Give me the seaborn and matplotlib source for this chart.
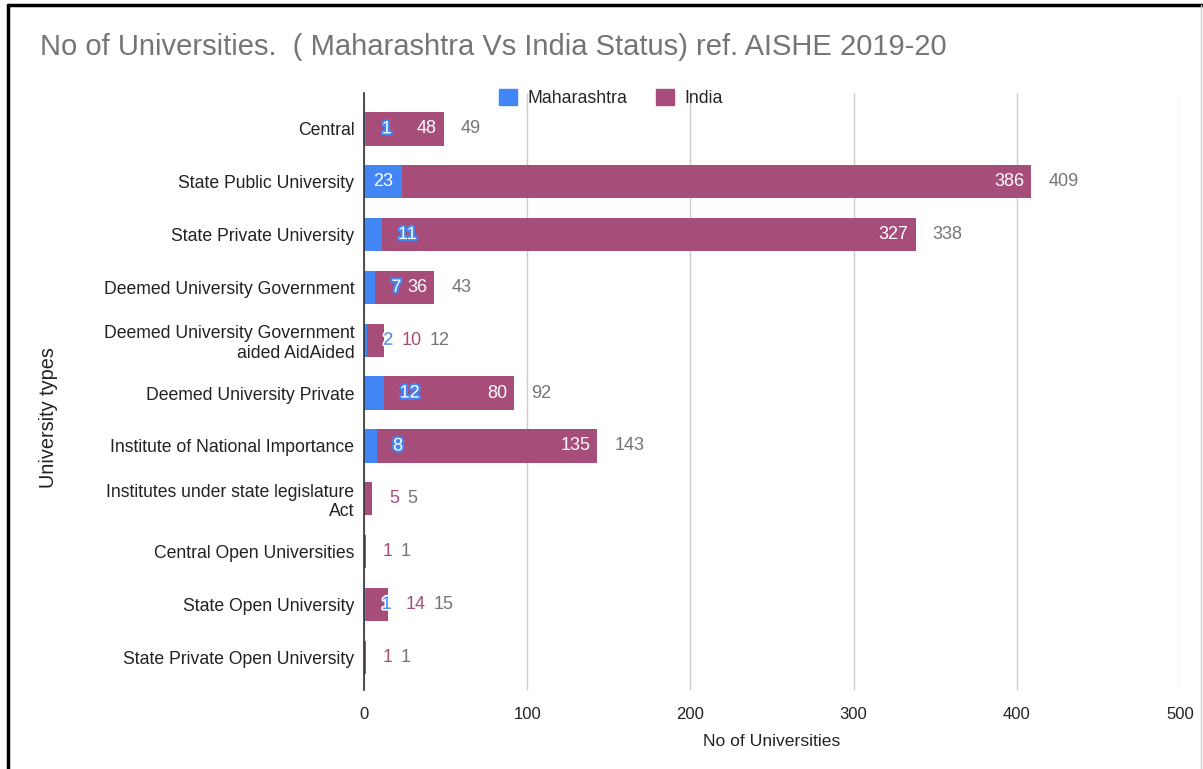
import pandas as pd
import seaborn as sns
import matplotlib as mpl
import matplotlib.pyplot as plt
import matplotlib.patheffects as pe
from matplotlib.patches import Patch
from matplotlib.lines import Line2D

sns.set_style("white")
mpl.rcParams['font.family'] = ['Liberation Sans', 'DejaVu Sans']

# data
categories = ["Central", "State Public University", "State Private University",
              "Deemed University Government", "Deemed University Government\naided AidAided",
              "Deemed University Private", "Institute of National Importance",
              "Institutes under state legislature\nAct", "Central Open Universities",
              "State Open University", "State Private Open University"]
maharashtra = [1, 23, 11, 7, 2, 12, 8, 0, 0, 1, 0]
india = [48, 386, 327, 36, 10, 80, 135, 5, 1, 14, 1]

blue = "#4285F4"
magenta = "#A64D79"
grey = "#757575"

df = pd.DataFrame({"type": categories, "Maharashtra": maharashtra, "India": india})
df["total"] = df["Maharashtra"] + df["India"]

fig = plt.figure(figsize=(12.03, 7.69), dpi=100)
ax = fig.add_axes([364 / 1203, 1 - 690 / 769, (1180 - 364) / 1203, (690 - 93) / 769])

# stacked bars: full length in India colour, Maharashtra part drawn over it
sns.barplot(data=df, x="total", y="type", orient="h", color=magenta, width=0.63,
            saturation=1, ax=ax, edgecolor="none")
sns.barplot(data=df, x="Maharashtra", y="type", orient="h", color=blue, width=0.63,
            saturation=1, ax=ax, edgecolor="none")

ax.set_xlim(0, 500)
ax.set_ylim(10.62, -0.68)
ax.set_xticks([0, 100, 200, 300, 400, 500])
ax.xaxis.grid(True, color="#cccccc", linewidth=1)
ax.set_axisbelow(True)
for s in ["top", "right", "bottom"]:
    ax.spines[s].set_visible(False)
ax.spines["left"].set_color("#333333")
ax.spines["left"].set_linewidth(1.2)
ax.tick_params(axis="y", length=0, labelsize=12.7, colors="#222222", pad=7)
ax.tick_params(axis="x", length=0, labelsize=12, colors="#222222", pad=12)
ax.set_xlabel("No of Universities", fontsize=12.6, color="#222222", labelpad=9)
ax.set_ylabel("")

fig.text(48 / 1203, 1 - 418 / 769, "University types", rotation=90, ha="center",
         va="center", fontsize=14.3, color="#222222")
fig.text(40 / 1203, 1 - 47 / 769, "No of Universities.  ( Maharashtra Vs India Status) ref. AISHE 2019-20",
         ha="left", va="center", fontsize=21, color=grey)

handles = [Patch(color=blue, label="Maharashtra"), Patch(color=magenta, label="India")]
fig.legend(handles=handles, loc="center", bbox_to_anchor=(611 / 1203, 1 - 98 / 769), ncol=2,
           frameon=False, fontsize=12.8, handlelength=1.0, handleheight=1.0,
           handletextpad=0.6, columnspacing=1.6)

# data labels, laid out left to right like the sheet chart does
renderer = fig.canvas.get_renderer()
to_px = ax.transData.transform
to_data = ax.transData.inverted().transform
fs = 13


def put(px_x, row, txt, ha, color, effects=None):
    xd = to_data((px_x, to_px((0, row))[1]))[0]
    t = ax.text(xd, row, txt, ha=ha, va="center", fontsize=fs, color=color,
                path_effects=effects, clip_on=False)
    bb = t.get_window_extent(renderer=renderer)
    return bb.x1


for i, r in df.iterrows():
    x0 = to_px((0, i))[0]
    xm = to_px((r["Maharashtra"], i))[0]
    xt = to_px((r["total"], i))[0]
    india_inside = xt - xm > 50
    cursor = None
    if r["Maharashtra"] > 0:
        if xm - x0 > 30:
            cursor = put((x0 + xm) / 2, i, str(r["Maharashtra"]), "center", "white")
        elif india_inside:
            cursor = put(xm + 16, i, str(r["Maharashtra"]), "left", "white",
                         [pe.Stroke(linewidth=3, foreground=blue), pe.Normal()])
        else:
            cursor = put(xm + 16, i, str(r["Maharashtra"]), "left", blue,
                         [pe.Stroke(linewidth=2.5, foreground="white"), pe.Normal()])
    if india_inside:
        put(xt - 7, i, str(r["India"]), "right", "white")
    else:
        left = xt + 17 if cursor is None else max(xt + 17, cursor + 8)
        cursor = put(left, i, str(r["India"]), "left", magenta)
    left = xt + 17 if cursor is None else max(xt + 17, cursor + 8)
    put(left, i, str(r["total"]), "left", grey)

# frame around the picture
fig.add_artist(Line2D([8 / 1203, 8 / 1203], [0, 1 - 5 / 769], transform=fig.transFigure,
                      color="black", linewidth=2.5))
fig.add_artist(Line2D([8 / 1203, 1], [1 - 5 / 769, 1 - 5 / 769], transform=fig.transFigure,
                      color="black", linewidth=2.5))
fig.add_artist(Line2D([1201 / 1203, 1201 / 1203], [0, 1 - 5 / 769], transform=fig.transFigure,
                      color="#cccccc", linewidth=1))

fig.savefig("out.png", dpi=100, facecolor="white")
